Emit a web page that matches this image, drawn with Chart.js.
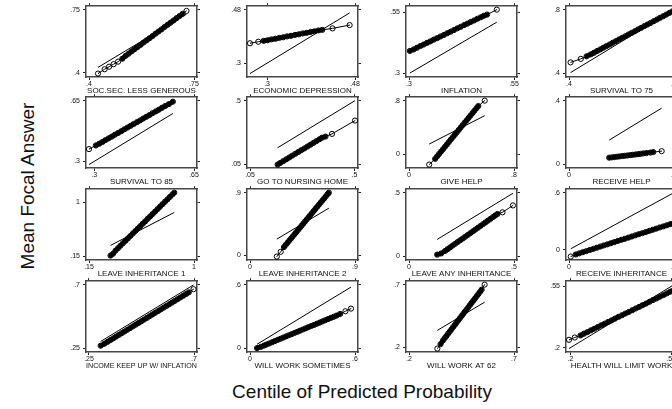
<!DOCTYPE html>
<html>
<head>
<meta charset="utf-8">
<script src="https://cdn.jsdelivr.net/npm/chart.js@4/dist/chart.umd.min.js"></script>
<style>
  html, body { margin: 0; padding: 0; background: #fff; }
  body { width: 672px; height: 409px; position: relative; overflow: hidden;
         font-family: "Liberation Sans", Arial, Helvetica, sans-serif; }
  .panel { position: absolute; }
  #ytitle { position: absolute; left: 28px; top: 186px; white-space: nowrap; font-size: 19px; color: #111;
            transform: translate(-50%, -50%) rotate(-90deg); }
  #xtitle { position: absolute; left: 362px; top: 392px; white-space: nowrap; font-size: 19px; color: #111;
            transform: translate(-50%, -50%); }
</style>
</head>
<body>
<div id="ytitle">Mean Focal Answer</div>
<div id="xtitle">Centile of Predicted Probability</div>
<script>
// Panel titles, in reading order (4 columns x 4 rows)
const titles = [
  'SOC.SEC. LESS GENEROUS', 'ECONOMIC DEPRESSION', 'INFLATION', 'SURVIVAL TO 75',
  'SURVIVAL TO 85', 'GO TO NURSING HOME', 'GIVE HELP', 'RECEIVE HELP',
  'LEAVE INHERITANCE 1', 'LEAVE INHERITANCE 2', 'LEAVE ANY INHERITANCE', 'RECEIVE INHERITANCE',
  'INCOME KEEP UP W/ INFLATION', 'WILL WORK SOMETIMES', 'WILL WORK AT 62', 'HEALTH WILL LIMIT WORK'
];

// Tick labels (same on both axes of a panel)
const tickLabels = [
  ['.4', '.75'], ['.3', '.48'], ['.3', '.55'], ['.4', '.8'],
  ['.3', '.65'], ['.05', '.5'], ['0', '.8'], ['0', '.4'],
  ['.15', '1'], ['0', '.9'], ['0', '.5'], ['0', '.6'],
  ['.25', '.7'], ['0', '.6'], ['.2', '.7'], ['.2', '.55']
];

// Centile of predicted probability (x) and mean focal answer (y), per question
const socSecX = [.430,.452,.467,.482,.497,.511,.522,.532,.542,.552,.562,.572,.582,.592,.602,.612,.622,.632,.642,.652,.662,.672,.682,.692,.702,.712,.725];
const socSecY = [.396,.420,.434,.448,.462,.478,.494,.506,.519,.531,.543,.555,.568,.580,.592,.604,.617,.629,.641,.654,.666,.678,.690,.703,.715,.727,.743];

const depressionX = [.265,.282,.293,.301,.309,.317,.325,.333,.341,.349,.357,.365,.373,.381,.389,.397,.405,.413,.434,.469];
const depressionY = [.367,.372,.375,.377,.380,.382,.385,.387,.390,.392,.395,.397,.400,.402,.405,.407,.410,.412,.417,.428];

const inflationX = [.302,.311,.319,.327,.335,.343,.351,.359,.367,.375,.383,.391,.399,.407,.415,.423,.431,.439,.447,.455,.463,.471,.478,.486,.509];
const inflationY = [.392,.398,.405,.412,.418,.425,.431,.438,.444,.451,.457,.464,.470,.477,.484,.490,.497,.503,.510,.516,.523,.529,.535,.540,.560];

const surv75X = [.406,.445,.467,.483,.495,.507,.519,.531,.543,.555,.567,.579,.591,.603,.615,.627,.639,.651,.663,.675,.687,.699,.711,.723,.735,.747,.759,.771,.783,.795];
const surv75Y = [.470,.492,.508,.520,.530,.541,.551,.562,.572,.582,.593,.603,.614,.624,.634,.645,.655,.665,.676,.686,.697,.707,.717,.728,.738,.749,.759,.769,.780,.790];

const surv85X = [.282,.306,.318,.329,.340,.351,.362,.373,.384,.395,.406,.417,.428,.439,.450,.461,.472,.483,.494,.505,.516,.527,.538,.549,.562,.576];
const surv85Y = [.371,.392,.402,.412,.423,.433,.443,.454,.464,.474,.485,.495,.505,.516,.526,.536,.547,.557,.567,.578,.588,.598,.609,.619,.630,.644];

const nursingX = [.169,.180,.193,.206,.219,.232,.245,.258,.271,.284,.297,.310,.323,.336,.349,.360,.375,.403,.502];
const nursingY = [.050,.061,.074,.087,.100,.113,.126,.139,.152,.164,.177,.190,.203,.216,.229,.240,.248,.267,.361];

const giveHelpX = [.154,.199,.214,.229,.244,.259,.274,.289,.304,.319,.334,.349,.364,.379,.394,.409,.424,.439,.454,.469,.484,.499,.514,.528,.577];
const giveHelpY = [-.151,-.066,-.030,.006,.042,.077,.113,.149,.185,.221,.257,.292,.328,.364,.400,.436,.472,.507,.543,.579,.615,.651,.687,.720,.800];

const recvHelpX = [.153,.163,.173,.183,.193,.203,.213,.223,.233,.243,.253,.263,.273,.283,.295,.310,.321,.353];
const recvHelpY = [.043,.045,.047,.049,.051,.053,.055,.057,.059,.061,.063,.065,.067,.070,.072,.075,.078,.084];

const leaveInh1X = [.324,.345,.365,.385,.405,.425,.445,.465,.485,.505,.525,.545,.565,.585,.605,.625,.645,.665,.685,.705,.725,.745,.765,.785,.805,.825,.840];
const leaveInh1Y = [.165,.195,.243,.281,.320,.358,.396,.434,.472,.511,.549,.587,.625,.663,.701,.740,.778,.816,.854,.892,.931,.969,1.007,1.045,1.083,1.121,1.150];

const leaveInh2X = [.230,.263,.291,.306,.321,.336,.351,.366,.381,.396,.411,.426,.441,.456,.471,.486,.501,.516,.531,.546,.561,.576,.591,.606,.621,.636,.651,.666,.676];
const leaveInh2Y = [-.022,.046,.115,.146,.176,.207,.237,.268,.299,.329,.360,.390,.421,.451,.482,.513,.543,.574,.604,.635,.666,.696,.727,.757,.788,.818,.849,.880,.900];

const leaveAnyX = [.134,.153,.172,.184,.196,.208,.220,.232,.244,.256,.268,.280,.292,.304,.316,.328,.340,.352,.364,.376,.388,.400,.410,.421,.445,.495];
const leaveAnyY = [.015,.024,.044,.058,.072,.086,.100,.114,.128,.141,.155,.169,.183,.197,.211,.225,.239,.253,.267,.281,.295,.309,.321,.333,.346,.400];

const recvInhX = [.010,.039,.059,.079,.099,.119,.139,.159,.179,.199,.219,.239,.259,.279,.299,.319,.339,.359,.379,.399,.419,.439,.459,.479,.499,.519,.539,.559,.579,.600];
const recvInhY = [-.072,-.050,-.038,-.026,-.015,-.003,.009,.021,.033,.045,.056,.068,.080,.092,.104,.115,.127,.139,.151,.163,.174,.186,.198,.210,.222,.234,.245,.257,.269,.282];

const incomeX = [.300,.316,.330,.342,.354,.366,.378,.390,.402,.414,.426,.438,.450,.462,.474,.486,.498,.510,.522,.534,.546,.558,.570,.582,.594,.606,.618,.630,.642,.654,.666,.678,.698];
const incomeY = [.270,.284,.298,.310,.322,.334,.346,.358,.370,.382,.394,.406,.418,.430,.442,.454,.466,.478,.490,.502,.514,.526,.538,.550,.562,.574,.586,.598,.610,.622,.634,.646,.668];

const workSomeX = [.040,.062,.080,.094,.110,.126,.142,.158,.174,.190,.206,.222,.238,.254,.270,.286,.302,.318,.334,.350,.366,.382,.398,.414,.430,.446,.462,.478,.494,.515,.545,.577];
const workSomeY = [.004,.016,.028,.038,.048,.059,.070,.081,.092,.103,.114,.125,.135,.146,.157,.168,.179,.190,.201,.212,.222,.233,.244,.255,.266,.277,.288,.298,.309,.325,.350,.375];

const work62X = [.335,.350,.362,.370,.378,.386,.394,.402,.410,.418,.426,.434,.442,.450,.458,.466,.474,.482,.490,.498,.506,.514,.522,.530,.538,.546,.560];
const work62Y = [.190,.225,.255,.273,.290,.308,.325,.343,.361,.378,.396,.414,.431,.449,.466,.484,.501,.519,.537,.554,.572,.589,.607,.625,.642,.660,.700];

const healthX = [.195,.215,.235,.247,.259,.271,.283,.295,.307,.319,.331,.343,.355,.367,.379,.391,.403,.415,.427,.439,.451,.463,.475,.487,.499,.511,.523,.535,.547,.560];
const healthY = [.245,.258,.270,.280,.289,.299,.308,.318,.328,.337,.347,.356,.366,.376,.385,.395,.404,.414,.424,.433,.443,.452,.462,.472,.481,.491,.500,.510,.520,.530];

const seriesX = [socSecX, depressionX, inflationX, surv75X, surv85X, nursingX, giveHelpX, recvHelpX,
                 leaveInh1X, leaveInh2X, leaveAnyX, recvInhX, incomeX, workSomeX, work62X, healthX];
const seriesY = [socSecY, depressionY, inflationY, surv75Y, surv85Y, nursingY, giveHelpY, recvHelpY,
                 leaveInh1Y, leaveInh2Y, leaveAnyY, recvInhY, incomeY, workSomeY, work62Y, healthY];

// Grid geometry of the small multiples
const colLeft = [86, 247, 406, 566];
const rowTop = [5, 96, 188, 280];
const plotW = 111, plotH = 72;
const padL = 26, padT = 6, padR = 6, padB = 19;

const FONT = '"Liberation Sans", Arial, Helvetica, sans-serif';
const BOX = '#474747';

function axisCfg(pos, lo, hi, ticks, labels, extra) {
  const horizontal = pos === 'top' || pos === 'bottom';
  const cfg = {
    type: 'linear', position: pos, min: lo, max: hi,
    afterBuildTicks: a => { a.ticks = ticks.map(v => ({ value: v })); },
    afterFit: a => {
      if (pos === 'bottom') a.height = padB;
      else if (pos === 'left') a.width = padL;
      else if (horizontal) a.height = 3;
      else a.width = 3;
    },
    grid: { display: true, drawOnChartArea: false, drawTicks: true, tickLength: 3,
            tickColor: '#222', tickWidth: 1, color: '#222' },
    border: { display: true, color: BOX, width: 1.5 },
    ticks: { display: pos === 'bottom' || pos === 'left', padding: pos === 'left' ? 3 : 0,
             autoSkip: false, maxRotation: 0, color: '#111',
             font: { family: FONT, size: 7 },
             callback: (v, i) => labels[i] }
  };
  return Object.assign(cfg, extra || {});
}

titles.forEach((title, k) => {
  const col = k % 4, row = Math.floor(k / 4);
  const xs = seriesX[k], ys = seriesY[k];
  const labels = tickLabels[k];
  const ticks = labels.map(parseFloat);

  const xLo = Math.min(...xs, ...ticks), xHi = Math.max(...xs, ...ticks);
  const yLo = Math.min(...ys, ...xs, ...ticks), yHi = Math.max(...ys, ...xs, ...ticks);
  const px = (xHi - xLo) * 3 / (plotW - 6);
  const py = (yHi - yLo) * 3.5 / (plotH - 7);

  const wrap = document.createElement('div');
  wrap.className = 'panel';
  const w = padL + plotW + padR, h = padT + plotH + padB;
  wrap.style.left = (colLeft[col] - padL) + 'px';
  wrap.style.top = (rowTop[row] - padT) + 'px';
  wrap.style.width = w + 'px';
  wrap.style.height = h + 'px';
  const cv = document.createElement('canvas');
  cv.width = w; cv.height = h;
  wrap.appendChild(cv);
  document.body.appendChild(wrap);

  const xMin = Math.min(...xs), xMax = Math.max(...xs);
  const points = xs.map((x, i) => ({ x: x, y: ys[i] }));

  new Chart(cv, {
    type: 'scatter',
    data: {
      datasets: [
        { // 45-degree reference line over the range of the centiles
          data: [{ x: xMin, y: xMin }, { x: xMax, y: xMax }],
          showLine: true, borderColor: '#000', borderWidth: 1, pointRadius: 0, clip: false
        },
        { // observed means by centile, joined
          data: points, showLine: true, borderColor: '#000', borderWidth: 1,
          borderCapStyle: 'round', borderJoinStyle: 'round',
          pointRadius: 2.6, pointBorderWidth: 1, pointBorderColor: '#000',
          pointBackgroundColor: 'rgba(0,0,0,0)', clip: false,
          segment: {
            borderWidth: c => Math.hypot(c.p1.x - c.p0.x, c.p1.y - c.p0.y) < 4.8 ? 4.5 : 1
          }
        }
      ]
    },
    options: {
      responsive: false, animation: false, events: [],
      layout: { padding: { left: 0, top: padT - 3, right: padR - 3, bottom: 0 } },
      plugins: { legend: { display: false }, tooltip: { enabled: false } },
      scales: {
        x: axisCfg('bottom', xLo - px, xHi + px, ticks, labels, {
          title: { display: true, text: title, color: '#111', padding: 0,
                   font: { family: FONT, size: 8 } }
        }),
        x2: axisCfg('top', xLo - px, xHi + px, ticks, labels),
        y: axisCfg('left', yLo - py, yHi + py, ticks, labels),
        y2: axisCfg('right', yLo - py, yHi + py, ticks, labels)
      }
    }
  });
});
</script>
</body>
</html>
